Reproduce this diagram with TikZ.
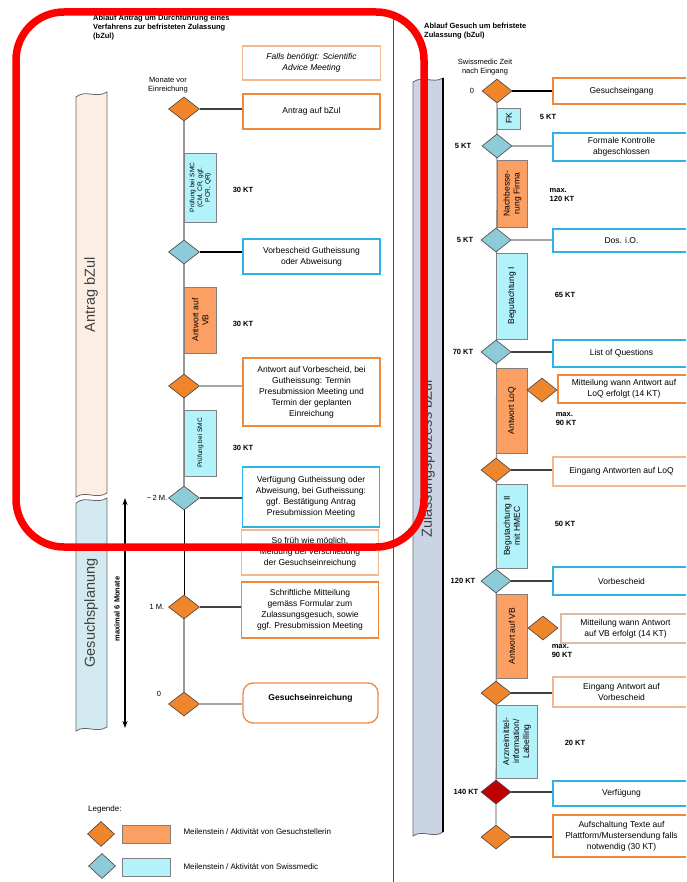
\documentclass[tikz,border=0pt]{standalone}
\usepackage{fontspec}
\setmainfont{Liberation Sans}
\usetikzlibrary{shapes.geometric}
\usetikzlibrary{backgrounds}
\usetikzlibrary{arrows.meta}
\definecolor{msorange}{HTML}{F0862C}
\definecolor{msblue}{HTML}{8ECBD9}
\definecolor{msred}{HTML}{C00000}
\definecolor{actorange}{HTML}{FB9F62}
\definecolor{actblue}{HTML}{B2F2FA}
\definecolor{brdorange}{HTML}{F0883C}
\definecolor{brdlorange}{HTML}{F2B893}
\definecolor{brdblue}{HTML}{2DB3E6}
\definecolor{brdbrown}{HTML}{DDBBA6}
\definecolor{bandpeach}{HTML}{FDEEE3}
\definecolor{bandcyan}{HTML}{D3EBF0}
\definecolor{bandgrey}{HTML}{C9D5E5}
\tikzstyle{milestone}=[diamond, draw=black!75, line width=0.6pt, inner sep=0pt, minimum width=31pt, minimum height=24pt]
\tikzstyle{mso}=[milestone, fill=msorange]
\tikzstyle{msb}=[milestone, fill=msblue]
\tikzstyle{msr}=[milestone, fill=msred]
\tikzstyle{activity}=[draw=black!50, line width=0.8pt, rotate=90, inner sep=1pt, align=center, font=\fontsize{8.5}{10}\selectfont]
\tikzstyle{acto}=[activity, fill=actorange]
\tikzstyle{actb}=[activity, fill=actblue]
\tikzstyle{event}=[draw, line width=1.3pt, fill=white, minimum width=137pt, inner sep=1pt, align=center, font=\fontsize{8.5}{11}\selectfont]
\tikzstyle{evo}=[event, draw=brdorange]
\tikzstyle{evl}=[event, draw=brdlorange]
\tikzstyle{evb}=[event, draw=brdblue]
\tikzstyle{evbr}=[event, draw=brdbrown]
\tikzstyle{band}=[draw=black!60, line width=0.8pt]
\tikzstyle{bandtext}=[rotate=90, font=\fontsize{14.5}{16}\selectfont, text=black!75]
\tikzstyle{duration}=[font=\bfseries\fontsize{7.5}{8.5}\selectfont, align=left, inner sep=0pt]
\tikzstyle{note}=[font=\fontsize{7.5}{8.5}\selectfont, align=center, inner sep=0pt]
\tikzstyle{link}=[draw=black!75, line width=1.2pt]
\tikzstyle{linkg}=[draw=black!35, line width=1.4pt]
\tikzstyle{tline}=[draw=black!40, line width=1.2pt]

\begin{document}
\begin{tikzpicture}[x=1pt, y=-1pt]
    \useasboundingbox (0,0) rectangle (686,882);
    \clip (0,0) rectangle (686,882);
    % left: Antrag bZul
    \node[font=\bfseries\fontsize{7.5}{9}\selectfont, align=left, anchor=north west, inner sep=0pt] (hdrL) at (93,15)
        {Ablauf Antrag um Durchführung eines\\Verfahrens zur befristeten Zulassung\\(bZul)};
    \draw[band, fill=bandpeach] (76,97) .. controls (86,89) and (96,99) .. (107,92) -- (107,493)
        .. controls (96,500) and (86,490) .. (76,497) -- cycle;
    \node[bandtext] (tAntrag) at (91,295) {Antrag bZul};
    \draw[band, fill=bandcyan] (76,503) .. controls (86,495) and (96,505) .. (107,498) -- (107,727)
        .. controls (96,734) and (86,724) .. (76,731) -- cycle;
    \node[bandtext] (tPlanung) at (91,613) {Gesuchsplanung};

    \node[evl, minimum height=34pt, minimum width=138pt, font=\itshape\fontsize{8.5}{11}\selectfont] (bSA) at (311.5,63)
        {Falls benötigt: Scientific\\Advice Meeting};
    \node[note] (lMonate) at (168,85) {Monate vor\\Einreichung};

    \node[mso] (dA1) at (184,109) {};
    \node[evo, minimum height=35pt] (bA1) at (311.5,111.5) {Antrag auf bZul};
    \node[actb, minimum width=69pt, minimum height=32pt, font=\fontsize{6.5}{7.8}\selectfont, anchor=north] (aP1) at (184,187.5) {Prüfung bei SMC\\(CM, CR, ggf.\\PCR, QR)};
    \node[duration] (k1) at (243,190) {30 KT};
    \node[msb] (dB1) at (184,252) {};
    \node[evb, minimum height=35pt] (bB1) at (311.5,256.5) {Vorbescheid Gutheissung\\oder Abweisung};
    \node[acto, minimum width=66pt, minimum height=32pt, anchor=north] (aA1) at (184,320) {Antwort auf\\VB};
    \node[duration] (k2) at (243,324) {30 KT};
    \node[mso] (dA2) at (184,386) {};
    \node[evo, minimum height=68pt] (bA2) at (311.5,392)
        {Antwort auf Vorbescheid, bei\\Gutheissung: Termin\\Presubmission Meeting und\\Termin der geplanten\\Einreichung};
    \node[actb, minimum width=66pt, minimum height=32pt, font=\fontsize{6.5}{7.8}\selectfont, anchor=north] (aP2) at (184,443) {Prüfung bei SMC};
    \node[duration] (k3) at (243,448) {30 KT};
    \node[msb] (dB2) at (184,498) {};
    \node[duration] (lB2) at (157,498) {\mdseries\textasciitilde\,2 M.};
    \node[evb, minimum height=60pt] (bB2) at (311,497)
        {Verfügung Gutheissung oder\\Abweisung, bei Gutheissung:\\ggf. Bestätigung Antrag\\Presubmission Meeting};
    \node[evl, minimum height=45pt] (bSF) at (310,552.5)
        {So früh wie möglich,\\Meldung bei Verschiebung\\der Gesuchseinreichung};
    \node[mso] (dA3) at (184,607) {};
    \node[duration] (lA3) at (157,607) {\mdseries 1 M.};
    \node[evo, minimum height=56pt] (bA3) at (310,610)
        {Schriftliche Mitteilung\\gemäss Formular zum\\Zulassungsgesuch, sowie\\ggf. Presubmission Meeting};
    \node[mso] (dA4) at (184,704) {};
    \node[duration] (lA4) at (159,694) {\mdseries 0};
    \node[evo, rounded corners=10pt, minimum height=40pt, minimum width=135pt] (bA4) at (310.5,703)
        {\textbf{Gesuchseinreichung}\\ \mbox{}};
    \coordinate (arTop) at (125,498);
    \coordinate (arBot) at (125,728);
    \draw[line width=1.3pt, {Stealth[length=7pt,width=5pt]}-{Stealth[length=7pt,width=5pt]}] (arTop) -- (arBot);
    \node[duration, rotate=90] (lMax) at (117,609) {maximal 6 Monate};

    % legend
    \node[font=\fontsize{8}{9}\selectfont, anchor=west, inner sep=0pt] (lgTitle) at (88,809) {Legende:};
    \node[mso, minimum width=27pt, minimum height=25pt] (lgD1) at (101,834) {};
    \node[draw=black!50, line width=0.8pt, fill=actorange, minimum width=48pt, minimum height=18pt] (lgA1) at (146,834) {};
    \node[font=\fontsize{8}{9}\selectfont, anchor=west] (lgT1) at (180,832) {Meilenstein / Aktivität von Gesuchstellerin};
    \node[msb, minimum width=27pt, minimum height=25pt] (lgD2) at (102,866) {};
    \node[draw=black!50, line width=0.8pt, fill=actblue, minimum width=48pt, minimum height=18pt] (lgA2) at (146,867) {};
    \node[font=\fontsize{8}{9}\selectfont, anchor=west] (lgT2) at (180,867) {Meilenstein / Aktivität von Swissmedic};

    % separator
    \draw[black!70, line width=0.9pt] (393,15) -- (393,882);

    % right: Gesuch bZul
    \node[font=\bfseries\fontsize{7.5}{9}\selectfont, align=left, anchor=north west, inner sep=0pt] (hdrR) at (424,23)
        {Ablauf Gesuch um befristete\\Zulassung (bZul)};
    \draw[band, fill=bandgrey] (413,82) .. controls (423,75) and (433,84) .. (443,78) -- (443,832)
        .. controls (433,839) and (423,829) .. (413,836) -- cycle;
    \draw[black, line width=1.4pt] (443,78) -- (443,832);
    \node[bandtext] (tProzess) at (428,459) {Zulassungsprozess bZul};
    \node[note] (lSZ) at (485,67) {Swissmedic Zeit\\nach Eingang};

    \node[mso, minimum width=30pt] (dR1) at (497,91) {};
    \node[duration] (lR1) at (472,91) {\mdseries 0};
    \node[evo, minimum height=26pt] (bR1) at (621.5,91) {Gesuchseingang};
    \node[actb, minimum width=21pt, minimum height=23pt, anchor=north] (aFK) at (497,118.5) {FK};
    \node[duration] (kR1) at (548,117) {5 KT};
    \node[msb, minimum width=30pt] (dR2) at (497,146) {};
    \node[duration] (lR2) at (463,146) {5 KT};
    \node[evb, minimum height=28pt] (bR2) at (621.5,147) {Formale Kontrolle\\abgeschlossen};
    \node[acto, minimum width=67pt, minimum height=30pt, anchor=north] (aNF) at (497,193.5) {Nachbesse-\\rung Firma};
    \node[duration] (kR2) at (562,195) {max.\\120 KT};
    \node[msb, minimum width=30pt] (dR3) at (496,240) {};
    \node[duration] (lR3) at (465,240) {5 KT};
    \node[evb, minimum height=23pt] (bR3) at (621.5,240.5) {Dos. i.O.};
    \node[actb, minimum width=86pt, minimum height=31pt, anchor=north] (aB1) at (496,296) {Begutachtung I};
    \node[duration] (kR3) at (565,295) {65 KT};
    \node[msb, minimum width=30pt] (dR4) at (496,352) {};
    \node[duration] (lR4) at (463,352) {70 KT};
    \node[evb, minimum height=27pt] (bR4) at (621.5,353.5) {List of Questions};
    \node[acto, minimum width=85pt, minimum height=31pt, anchor=north] (aLoQ) at (496,410.5) {Antwort LoQ};
    \node[mso, minimum width=30pt] (dR4s) at (542,390) {};
    \node[evo, minimum width=132pt, minimum height=28pt] (bR4s) at (624,389) {Mitteilung wann Antwort auf\\LoQ erfolgt (14 KT)};
    \node[duration] (kR4) at (566,419) {max.\\90 KT};
    \node[mso, minimum width=30pt] (dR5) at (496,470) {};
    \node[evl, minimum height=29pt] (bR5) at (621.5,471.5) {Eingang Antworten auf LoQ};
    \node[actb, minimum width=84pt, minimum height=31pt, anchor=north] (aB2) at (496,526) {Begutachtung II\\mit HMEC};
    \node[duration] (kR5) at (565,524) {50 KT};
    \node[msb, minimum width=30pt] (dR6) at (496,581) {};
    \node[duration] (lR6) at (463,581) {120 KT};
    \node[evb, minimum height=28pt] (bR6) at (621.5,581) {Vorbescheid};
    \node[acto, minimum width=84pt, minimum height=31pt, anchor=north] (aVB) at (496,636) {Antwort auf VB};
    \node[mso, minimum width=30pt] (dR6s) at (543,628) {};
    \node[evbr, minimum width=129pt, minimum height=29pt] (bR6s) at (625.5,628.5) {Mitteilung wann Antwort\\auf VB erfolgt (14 KT)};
    \node[duration] (kR6) at (562,651) {max.\\90 KT};
    \node[mso, minimum width=30pt] (dR7) at (496,693) {};
    \node[evl, minimum height=30pt] (bR7) at (621.5,692) {Eingang Antwort auf\\Vorbescheid};
    \node[actb, minimum width=73pt, minimum height=41pt, anchor=north] (aAI) at (496,741.5) {Arzneimittel-\\information/\\Labelling};
    \node[duration] (kR7) at (575,743) {20 KT};
    \node[msr, minimum width=30pt] (dR8) at (496,792) {};
    \node[duration] (lR8) at (466,792) {140 KT};
    \node[evb, minimum height=25pt] (bR8) at (621.5,793.5) {Verfügung};
    \node[mso, minimum width=30pt] (dR9) at (496,837) {};
    \node[evo, minimum height=42pt] (bR9) at (621.5,836) {Aufschaltung Texte auf\\Plattform/Mustersendung falls\\notwendig (30 KT)};

    % timelines and links
    \begin{scope}[on background layer]
        \draw[tline] (dA1) -- (dB2);
        \draw[black, line width=0.6pt] (dB2) -- (dA3);
        \draw[tline, line width=1.6pt] (dA3) -- (dA4);
        \draw[tline] (dR1) -- (dR9);
    \end{scope}
    \draw[link] (dA1.east) -- (dA1.east -| bA1.west);
    \draw[link, draw=black] (dB1.east) -- (dB1.east -| bB1.west);
    \draw[linkg] (dA2.east) -- (dA2.east -| bA2.west);
    \draw[link] (dB2.east) -- (dB2.east -| bB2.west);
    \draw[link] (dA3.east) -- (dA3.east -| bA3.west);
    \draw[linkg, line width=2pt] (dA4.east) -- (dA4.east -| bA4.west);
    \draw[link, draw=black] (dR1.east) -- (dR1.east -| bR1.west);
    \draw[linkg] (dR2.east) -- (dR2.east -| bR2.west);
    \draw[linkg] (dR3.east) -- (dR3.east -| bR3.west);
    \draw[link] (dR4.east) -- (dR4.east -| bR4.west);
    \draw[link] (dR5.east) -- (dR5.east -| bR5.west);
    \draw[link] (dR6.east) -- (dR6.east -| bR6.west);
    \draw[link] (dR7.east) -- (dR7.east -| bR7.west);
    \draw[link] (dR8.east) -- (dR8.east -| bR8.west);
    \draw[link] (dR9.east) -- (dR9.east -| bR9.west);

    % highlight
    \draw[red, line width=7.5pt, rounded corners=48pt] (16,12) rectangle (424,547);
\end{tikzpicture}
\end{document}
